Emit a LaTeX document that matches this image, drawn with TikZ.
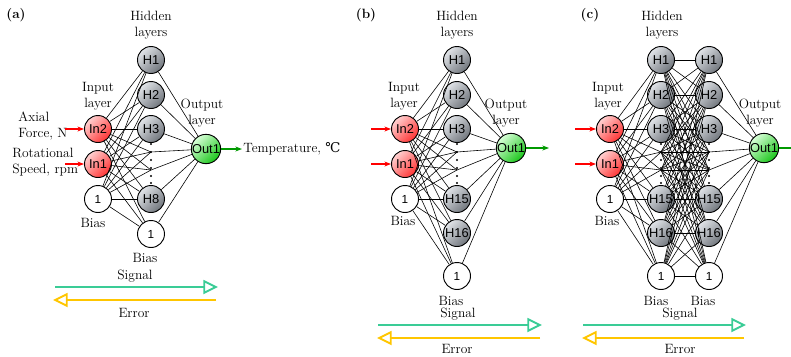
\documentclass[tikz,border=0pt]{standalone}
\usepackage{fontspec}
\setsansfont{Liberation Sans}
\newfontfamily\degfont{DejaVu Serif}
\usepackage{xcolor}
\usepackage{tikz}
\usetikzlibrary{arrows.meta,positioning}
\definecolor{sigcol}{RGB}{58,204,150}
\definecolor{errcol}{RGB}{255,198,0}
\definecolor{hidtop}{RGB}{226,229,233}
\definecolor{hidbot}{RGB}{112,117,124}
\tikzset{
  neu/.style={circle, draw, line width=0.8pt, minimum size=8.1mm, inner sep=0pt, font=\sffamily\fontsize{11}{11}\selectfont},
  inp/.style={neu, top color=red!18, bottom color=red!80, shading angle=45},
  hid/.style={neu, top color=hidtop, bottom color=hidbot, shading angle=45},
  outp/.style={neu, top color=green!15, bottom color=green!75!black!90, shading angle=45},
  bias/.style={neu, fill=white, font=\sffamily\fontsize{10}{10}\selectfont},
  lbl/.style={align=center, inner sep=1pt, font=\fontsize{11.5}{13.6}\selectfont},
  con/.style={line width=0.5pt},
  inarr/.style={-{Stealth[length=2mm]}, red, line width=0.9pt},
  outarr/.style={-{Stealth[length=2mm]}, green!60!black, line width=0.9pt},
  sig/.style={-{Triangle[open, length=4.4mm, width=4.2mm]}, sigcol, line width=1.6pt},
  err/.style={-{Triangle[open, length=4.4mm, width=4.2mm]}, errcol, line width=1.6pt},
}
\begin{document}
\begin{tikzpicture}[x=0.03cm, y=-0.03cm]
\useasboundingbox (0,0) rectangle (791,356);
% (a) one hidden layer
\node[lbl, font=\fontsize{11.5}{13.6}\selectfont\bfseries] (aTag) at (16,15) {(a)};
\node[lbl] (aHidTxt) at (151,25) {Hidden\\layers};
\node[lbl] (aInTxt) at (98,96) {Input\\layer};
\node[lbl] (aOutTxt) at (202,113) {Output\\layer};
\node[inp] (aIn2) at (98,129) {In2};
\node[inp] (aIn1) at (98,164) {In1};
\node[bias] (aB0) at (98,199) {1};
\node[hid] (aH1) at (151,60) {H1};
\node[hid] (aH2) at (151,95) {H2};
\node[hid] (aH3) at (151,129) {H3};
\node[hid] (aH8) at (151,199) {H8};
\node[bias] (aB1) at (151,234) {1};
\coordinate (aD1) at (151,152); \coordinate (aD2) at (151,170);
\foreach \y in {144,152,160,168,176,183} {\fill (151,\y) circle (0.9pt);}
\node[outp] (aOut) at (206,149) {Out1};
\node[lbl, align=left, anchor=west] (aForce) at (17,126) {Axial\\Force, N};
\node[lbl, align=left, anchor=west] (aSpeed) at (11,162) {Rotational\\Speed, rpm};
\coordinate (aF0) at (65,129); \coordinate (aS0) at (65,164);
\draw[inarr] (aF0) -- (aIn2); \draw[inarr] (aS0) -- (aIn1);
\coordinate (aT) at (242,149);
\draw[outarr] (aOut) -- (aT);
\node[lbl, anchor=west] (aTemp) at (aT) {Temperature, {\degfont ℃}};
\node[lbl] (aBiasTxt0) at (93,223) {Bias};
\node[lbl] (aBiasTxt1) at (145,258) {Bias};
\foreach \i in {aIn2,aIn1,aB0} {\foreach \h in {aH1,aH2,aH3,aD1,aD2,aH8,aB1} {\draw[con] (\i) -- (\h);}}
\foreach \h in {aH1,aH2,aH3,aD1,aD2,aH8,aB1} {\draw[con] (\h) -- (aOut);}
\node[lbl] (aSig) at (135,276) {Signal};
\coordinate (aSigL) at (55,287); \coordinate (aSigR) at (218,287);
\draw[sig] (aSigL) -- (aSigR);
\coordinate (aErrR) at (216,300); \coordinate (aErrL) at (53,300);
\draw[err] (aErrR) -- (aErrL);
\node[lbl] (aErr) at (134,313) {Error};
% (b) one wide hidden layer
\node[lbl, font=\fontsize{11.5}{13.6}\selectfont\bfseries] (bTag) at (366,15) {(b)};
\node[lbl] (bHidTxt) at (457,25) {Hidden\\layers};
\node[lbl] (bInTxt) at (404,96) {Input\\layer};
\node[lbl] (bOutTxt) at (506,113) {Output\\layer};
\node[inp] (bIn2) at (405,129) {In2};
\node[inp] (bIn1) at (405,164) {In1};
\node[bias] (bB0) at (405,199) {1};
\node[hid] (bH1) at (457,60) {H1};
\node[hid] (bH2) at (457,95) {H2};
\node[hid] (bH3) at (457,129) {H3};
\node[hid] (bH15) at (457,199) {H15};
\node[hid] (bH16) at (457,233) {H16};
\node[bias] (bB1) at (457,276) {1};
\coordinate (bD1) at (457,152); \coordinate (bD2) at (457,170);
\foreach \y in {144,152,160,168,176,183} {\fill (457,\y) circle (0.9pt);}
\node[outp] (bOut) at (511,148) {Out1};
\coordinate (bF0) at (371,129); \coordinate (bS0) at (371,164);
\draw[inarr] (bF0) -- (bIn2); \draw[inarr] (bS0) -- (bIn1);
\coordinate (bT) at (549,148);
\draw[outarr] (bOut) -- (bT);
\node[lbl] (bBiasTxt0) at (403,221) {Bias};
\node[lbl] (bBiasTxt1) at (451,301) {Bias};
\foreach \i in {bIn2,bIn1,bB0} {\foreach \h in {bH1,bH2,bH3,bD1,bD2,bH15,bH16,bB1} {\draw[con] (\i) -- (\h);}}
\foreach \h in {bH1,bH2,bH3,bD1,bD2,bH15,bH16,bB1} {\draw[con] (\h) -- (bOut);}
\node[lbl] (bSig) at (458,314) {Signal};
\coordinate (bSigL) at (378,325); \coordinate (bSigR) at (542,325);
\draw[sig] (bSigL) -- (bSigR);
\coordinate (bErrR) at (540,338); \coordinate (bErrL) at (377,338);
\draw[err] (bErrR) -- (bErrL);
\node[lbl] (bErr) at (457,349) {Error};
% (c) two hidden layers
\node[lbl, font=\fontsize{11.5}{13.6}\selectfont\bfseries] (cTag) at (590,15) {(c)};
\node[lbl] (cHidTxt) at (662,25) {Hidden\\layers};
\node[lbl] (cInTxt) at (608,96) {Input\\layer};
\node[lbl] (cOutTxt) at (760,113) {Output\\layer};
\node[inp] (cIn2) at (610,129) {In2};
\node[inp] (cIn1) at (610,164) {In1};
\node[bias] (cB0) at (610,199) {1};
\foreach \c/\x in {p/661,q/709} {
  \node[hid] (c\c H1) at (\x,60) {H1};
  \node[hid] (c\c H2) at (\x,95) {H2};
  \node[hid] (c\c H3) at (\x,129) {H3};
  \node[hid] (c\c H15) at (\x,199) {H15};
  \node[hid] (c\c H16) at (\x,233) {H16};
  \node[bias] (c\c B) at (\x,276) {1};
  \coordinate (c\c D1) at (\x,152); \coordinate (c\c D2) at (\x,170);
  \foreach \y in {144,152,160,168,176,183} {\fill (\x,\y) circle (0.9pt);}
}
\node[outp] (cOut) at (764,148) {Out1};
\coordinate (cF0) at (575,129); \coordinate (cS0) at (575,164);
\draw[inarr] (cF0) -- (cIn2); \draw[inarr] (cS0) -- (cIn1);
\coordinate (cT) at (791,148);
\draw[green!60!black, line width=0.9pt] (cOut) -- (cT);
\node[lbl] (cBiasTxt0) at (607,221) {Bias};
\node[lbl] (cBiasTxt1) at (656,301) {Bias};
\node[lbl] (cBiasTxt2) at (703,301) {Bias};
\foreach \i in {cIn2,cIn1,cB0} {\foreach \h in {H1,H2,H3,D1,D2,H15,H16,B} {\draw[con] (\i) -- (cp\h);}}
\foreach \g in {H1,H2,H3,D1,D2,H15,H16,B} {\foreach \h in {H1,H2,H3,D1,D2,H15,H16,B} {\draw[con] (cp\g) -- (cq\h);}}
\foreach \h in {H1,H2,H3,D1,D2,H15,H16,B} {\draw[con] (cq\h) -- (cOut);}
\node[lbl] (cSig) at (680,314) {Signal};
\coordinate (cSigL) at (583,325); \coordinate (cSigR) at (746,325);
\draw[sig] (cSigL) -- (cSigR);
\coordinate (cErrR) at (744,338); \coordinate (cErrL) at (582,338);
\draw[err] (cErrR) -- (cErrL);
\node[lbl] (cErr) at (680,349) {Error};
\end{tikzpicture}
\end{document}
